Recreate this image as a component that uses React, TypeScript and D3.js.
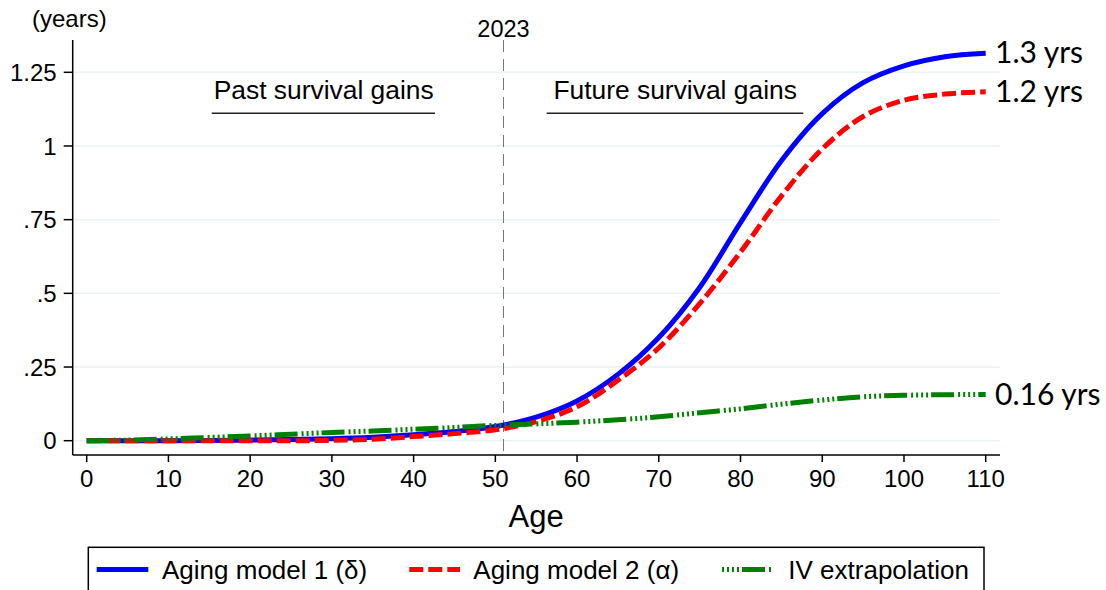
import React from "react";
import * as d3 from "d3";

const ages = [0, 5, 10, 15, 20, 25, 30, 35, 40, 45, 50, 55, 60, 65, 70, 75, 80, 85, 90, 95, 100, 105, 110];
const agingModel1 = [0, 0, 0, 0.001, 0.002, 0.004, 0.007, 0.012, 0.02, 0.031, 0.048, 0.08, 0.135, 0.225, 0.35, 0.52, 0.74, 0.95, 1.11, 1.215, 1.272, 1.303, 1.315];
const agingModel2 = [0, 0, 0, 0, 0, 0, 0.001, 0.005, 0.014, 0.024, 0.037, 0.065, 0.115, 0.205, 0.315, 0.465, 0.64, 0.83, 0.99, 1.1, 1.155, 1.176, 1.184];
const ivExtrapolation = [0, 0.002, 0.006, 0.011, 0.016, 0.022, 0.028, 0.033, 0.039, 0.045, 0.052, 0.057, 0.063, 0.071, 0.081, 0.095, 0.108, 0.124, 0.138, 0.149, 0.154, 0.156, 0.157];

const yTicks = [0, 0.25, 0.5, 0.75, 1, 1.25];
const yTickLabels = ["0", ".25", ".5", ".75", "1", "1.25"];
const xTicks = [0, 10, 20, 30, 40, 50, 60, 70, 80, 90, 100, 110];

const markerAge = 51;
const markerLabel = "2023";
const pastLabel = "Past survival gains";
const pastAge = 29;
const futureLabel = "Future survival gains";
const futureAge = 72;

const endLabels = ["1.3 yrs", "1.2 yrs", "0.16 yrs"];
const seriesNames = ["Aging model 1 (δ)", "Aging model 2 (α)", "IV extrapolation"];

const W = 1106;
const H = 590;
const FONT = "'Liberation Sans', Arial, sans-serif";

export default function App() {
  const x = d3.scaleLinear().domain([0, 110]).range([86.7, 985.7]);
  const y = d3.scaleLinear().domain([0, 1.25]).range([440.7, 72.3]);
  const plotLeft = 72.7;
  const plotRight = 1000;
  const axisY = 455;
  const axisTop = 40;

  const line = d3
    .line<number>()
    .x((_, i) => x(ages[i]))
    .y((d) => y(d))
    .curve(d3.curveCatmullRom.alpha(0.5));

  const greenDash = "23,4,2,3,2,3,2,3,2,3";
  const redDash = "14,5";

  const series = [
    { values: agingModel1, color: "#0000ff", dash: undefined as string | undefined },
    { values: agingModel2, color: "#ff0000", dash: redDash },
    { values: ivExtrapolation, color: "#008000", dash: greenDash },
  ];

  const endLabelBaselines = [63, 102, 404.5];

  const legendItems = [
    { lx1: 96.7, lx2: 148.3, tx: 162, color: "#0000ff", dash: undefined as string | undefined, offset: 0 },
    { lx1: 409.3, lx2: 460, tx: 473.3, color: "#ff0000", dash: redDash, offset: 0 },
    { lx1: 722, lx2: 771, tx: 788.3, color: "#008000", dash: greenDash, offset: 27 },
  ];

  return (
    <svg
      width={W}
      height={H}
      style={{ position: "absolute", left: 0, top: 0, background: "#fff" }}
      fontFamily={FONT}
    >
      <rect x={0} y={0} width={W} height={H} fill="#fff" />
      {/* gridlines */}
      {yTicks.map((t) => (
        <line key={"g" + t} x1={plotLeft} x2={plotRight} y1={y(t)} y2={y(t)} stroke="#eaf2f3" strokeWidth={1.5} />
      ))}
      {/* y axis */}
      <line x1={plotLeft} x2={plotLeft} y1={axisTop} y2={axisY} stroke="#000" strokeWidth={1.5} />
      {yTicks.map((t, i) => (
        <g key={"yt" + t}>
          <line x1={plotLeft - 9} x2={plotLeft} y1={y(t)} y2={y(t)} stroke="#000" strokeWidth={1.5} />
          <text x={56.7} y={y(t)} dy="0.36em" textAnchor="end" fontSize={24} fill="#000">
            {yTickLabels[i]}
          </text>
        </g>
      ))}
      <text x={32} y={26.5} fontSize={24} fill="#000">
        (years)
      </text>
      {/* x axis */}
      <line x1={plotLeft} x2={plotRight} y1={axisY} y2={axisY} stroke="#000" strokeWidth={1.5} />
      {xTicks.map((t) => (
        <g key={"xt" + t}>
          <line x1={x(t)} x2={x(t)} y1={axisY} y2={axisY + 7} stroke="#000" strokeWidth={1.5} />
          <text x={x(t)} y={486.5} textAnchor="middle" fontSize={24} fill="#000">
            {t}
          </text>
        </g>
      ))}
      <text x={x(55)} y={527} textAnchor="middle" fontSize={31} fill="#000">
        Age
      </text>
      {/* 2023 marker */}
      <line x1={x(markerAge)} x2={x(markerAge)} y1={axisTop} y2={axisY} stroke="#777" strokeWidth={1} strokeDasharray="12,7" />
      <text x={x(markerAge)} y={36.5} textAnchor="middle" fontSize={23.5} fill="#000">
        {markerLabel}
      </text>
      {/* annotations */}
      <text x={x(pastAge)} y={99} textAnchor="middle" fontSize={26.4} fill="#000">
        {pastLabel}
      </text>
      <line x1={211.7} x2={435} y1={113.3} y2={113.3} stroke="#222" strokeWidth={1.5} />
      <text x={x(futureAge)} y={99} textAnchor="middle" fontSize={26.4} fill="#000">
        {futureLabel}
      </text>
      <line x1={546.7} x2={803.3} y1={113.3} y2={113.3} stroke="#222" strokeWidth={1.5} />
      {/* series */}
      {series.map((s, i) => (
        <path
          key={"s" + i}
          d={line(s.values) || ""}
          fill="none"
          stroke={s.color}
          strokeWidth={5}
          strokeDasharray={s.dash}
        />
      ))}
      {/* end labels */}
      {endLabels.map((l, i) => (
        <text key={"el" + i} x={995} y={endLabelBaselines[i]} fontSize={30} fontFamily="Lato, sans-serif" fill="#000">
          {l}
        </text>
      ))}
      {/* legend */}
      <rect x={88.3} y={547.3} width={895.7} height={60} fill="#fff" stroke="#000" strokeWidth={1.5} />
      {legendItems.map((it, i) => (
        <g key={"lg" + i}>
          <line
            x1={it.lx1}
            x2={it.lx2}
            y1={569.5}
            y2={569.5}
            stroke={it.color}
            strokeWidth={5}
            strokeDasharray={it.dash}
            strokeDashoffset={it.offset}
          />
          <text x={it.tx} y={578.5} fontSize={26} fill="#000">
            {seriesNames[i]}
          </text>
        </g>
      ))}
    </svg>
  );
}
